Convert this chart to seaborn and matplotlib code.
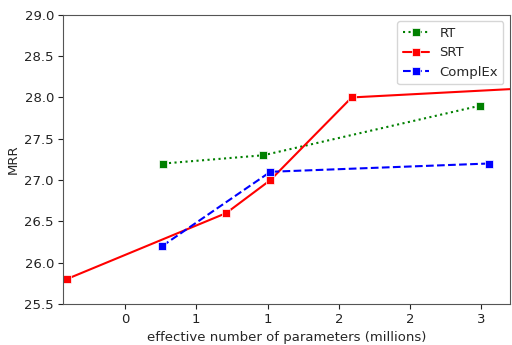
import matplotlib
matplotlib.use("Agg")
import matplotlib.pyplot as plt
import matplotlib.ticker as mticker
import seaborn as sns
import numpy as np

# effective number of parameters (millions) and MRR per model
rt_params = [0.77, 1.47, 2.99]
rt_mrr = [27.2, 27.3, 27.9]

srt_params = [0.09, 1.21, 1.52, 2.09, 4.3]
srt_mrr = [25.8, 26.6, 27.0, 28.0, 28.2]

complex_params = [0.76, 1.52, 3.05]
complex_mrr = [26.2, 27.1, 27.2]

sns.set_style("ticks")
plt.rcParams['font.family'] = ['DejaVu Sans']

fig, ax = plt.subplots(figsize=(5.12, 3.45), dpi=100)
fig.subplots_adjust(left=0.123, right=0.996, top=0.957, bottom=0.119)

sns.lineplot(x=rt_params, y=rt_mrr, ax=ax, color='green', linestyle=':',
             marker='s', markersize=6, markeredgewidth=0.5, sort=False, label='RT')
sns.lineplot(x=srt_params, y=srt_mrr, ax=ax, color='red', linestyle='-',
             marker='s', markersize=6, markeredgewidth=0.5, sort=False, label='SRT')
sns.lineplot(x=complex_params, y=complex_mrr, ax=ax, color='blue', linestyle='--',
             marker='s', markersize=6, markeredgewidth=0.5, sort=False, label='ComplEx')

ax.set_xlim(0.065, 3.2)
ax.set_ylim(25.5, 29.0)
ax.xaxis.set_major_locator(mticker.MultipleLocator(0.5))
ax.xaxis.set_major_formatter(mticker.FormatStrFormatter('%d'))
ax.yaxis.set_major_locator(mticker.MultipleLocator(0.5))
ax.yaxis.set_major_formatter(mticker.FormatStrFormatter('%.1f'))
ax.tick_params(labelsize=9.5, colors='#222222', length=3.3, pad=3.2)
for s in ax.spines.values():
    s.set_color('#555555')

ax.set_xlabel("effective number of parameters (millions)", fontsize=9.5, labelpad=3.5)
ax.set_ylabel("MRR", fontsize=9.5, labelpad=3)
ax.legend(loc='upper right', fontsize=9.5)

fig.savefig('out.png', dpi=100)
